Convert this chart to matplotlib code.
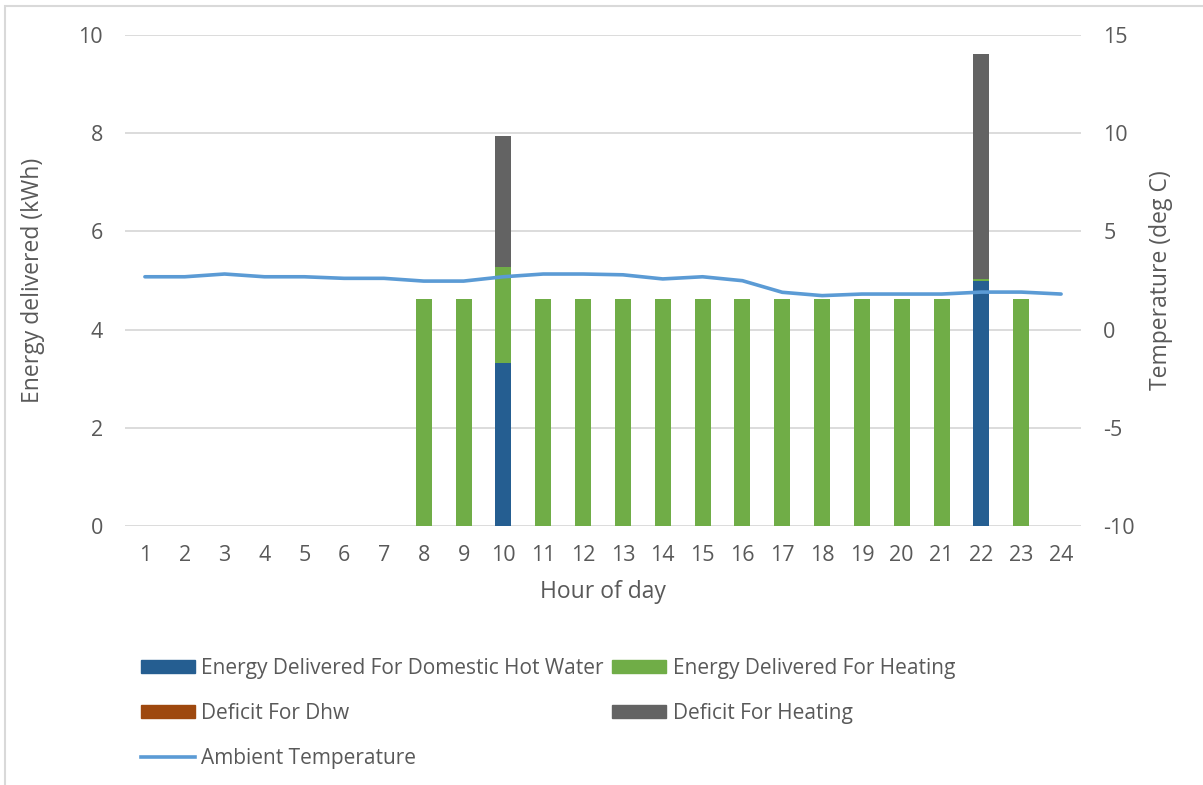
import matplotlib
matplotlib.use("Agg")
import matplotlib.pyplot as plt
from matplotlib.patches import Rectangle, Patch
from matplotlib.lines import Line2D

plt.rcParams['font.family'] = ['Open Sans', 'DejaVu Sans']
plt.rcParams['axes.unicode_minus'] = False

hours = list(range(1, 25))
dhw = [0]*9 + [3.31] + [0]*11 + [4.98] + [0, 0]
heating = [0]*7 + [4.62, 4.62, 1.96] + [4.62]*11 + [0.06, 4.62, 0]
deficit_dhw = [0]*24
deficit_heating = [0]*9 + [2.68] + [0]*11 + [4.57] + [0, 0]
temperature = [2.69, 2.69, 2.83, 2.69, 2.69, 2.61, 2.61, 2.47, 2.47, 2.69,
               2.83, 2.83, 2.79, 2.58, 2.69, 2.49, 1.90, 1.73, 1.81, 1.81,
               1.81, 1.91, 1.91, 1.81]

C_DHW = '#255E91'
C_HEAT = '#70AD47'
C_DEFDHW = '#9E480E'
C_DEFHEAT = '#636363'
C_LINE = '#5B9BD5'
C_TXT = '#595959'
C_GRID = '#D9D9D9'

W, H = 1203, 785
fig = plt.figure(figsize=(W/100, H/100), dpi=100)
ax = fig.add_axes([125/W, 1-526/H, (1081-125)/W, (526-35)/H])

bw = 0.4
ax.bar(hours, dhw, bw, color=C_DHW, zorder=2)
bot = list(dhw)
ax.bar(hours, heating, bw, bottom=bot, color=C_HEAT, zorder=2)
bot = [a+b for a, b in zip(bot, heating)]
ax.bar(hours, deficit_dhw, bw, bottom=bot, color=C_DEFDHW, zorder=2)
bot = [a+b for a, b in zip(bot, deficit_dhw)]
ax.bar(hours, deficit_heating, bw, bottom=bot, color=C_DEFHEAT, zorder=2)

ax.set_xlim(0.5, 24.5)
ax.set_ylim(0, 10)
ax.set_yticks([0, 2, 4, 6, 8, 10])
ax.set_xticks(hours)
ax.grid(axis='y', color=C_GRID, linewidth=1.3, zorder=0)
ax.set_axisbelow(True)
for s in ax.spines.values():
    s.set_visible(False)
ax.tick_params(length=0, labelsize=15.5, colors=C_TXT)
ax.tick_params(axis='x', pad=14)
ax.tick_params(axis='y', pad=16)
ax.set_xlabel('Hour of day', fontsize=16.5, color=C_TXT, labelpad=10)
ax.set_ylabel('Energy delivered (kWh)', fontsize=16.5, color=C_TXT, labelpad=24)

ax2 = ax.twinx()
ax2.plot(hours, temperature, color=C_LINE, linewidth=2.6, zorder=3,
         solid_capstyle='round')
ax2.set_ylim(-10, 15)
ax2.set_yticks([-10, -5, 0, 5, 10, 15])
for s in ax2.spines.values():
    s.set_visible(False)
ax2.tick_params(length=0, labelsize=15.5, colors=C_TXT, pad=16)
ax2.set_ylabel('Temperature (deg C)', fontsize=16.5, color=C_TXT, labelpad=10)

handles = [Patch(color=C_DHW), Patch(color=C_DEFDHW),
           Line2D([0], [0], color=C_LINE, linewidth=2.6),
           Patch(color=C_HEAT), Patch(color=C_DEFHEAT)]
labels = ['Energy Delivered For Domestic Hot Water', 'Deficit For Dhw',
          'Ambient Temperature', 'Energy Delivered For Heating',
          'Deficit For Heating']
leg = fig.legend(handles, labels, loc='upper left',
                 bbox_to_anchor=(141/W, 1-658/H), ncol=2, frameon=False,
                 fontsize=15, handlelength=2.6, handleheight=0.6,
                 handletextpad=0.3, columnspacing=0.4, labelspacing=1.15,
                 borderaxespad=0, borderpad=0)
for t in leg.get_texts():
    t.set_color(C_TXT)

fig.patches.append(Rectangle((5/W, -0.01), 1.02, 1-6/H+0.01,
                             transform=fig.transFigure, fill=False,
                             edgecolor=C_GRID, linewidth=1.5))

fig.savefig('out.png', dpi=100)
